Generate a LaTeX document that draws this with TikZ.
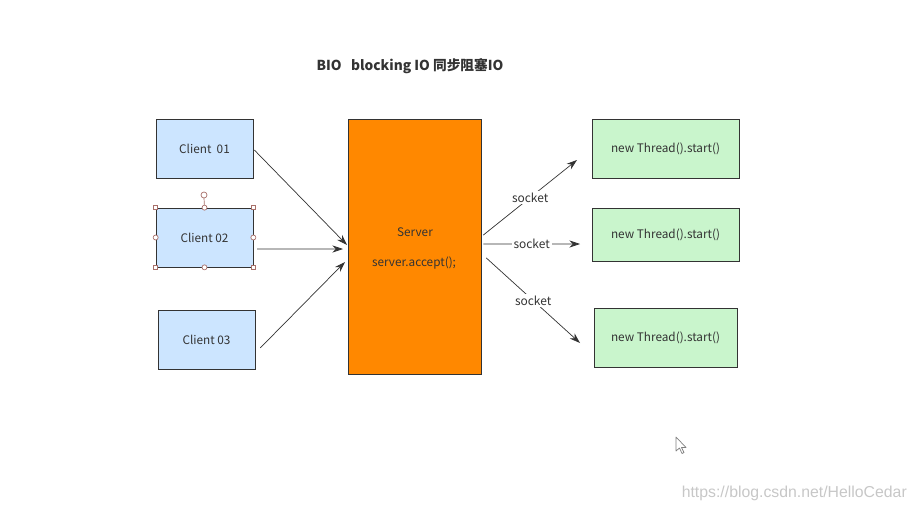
\documentclass[tikz,border=0pt]{standalone}
\usepackage{fontspec}
\setmainfont{Noto Sans CJK SC}
\newfontfamily\wmfont{Liberation Sans}
\usetikzlibrary{arrows.meta}
\definecolor{clientblue}{HTML}{CCE5FF}
\definecolor{threadgreen}{HTML}{C9F5CC}
\definecolor{serverorange}{HTML}{FF8800}
\definecolor{linegray}{HTML}{333333}
\definecolor{handlebrown}{HTML}{A8706A}
\tikzset{
  client/.style={draw=linegray,fill=clientblue,minimum width=1.94cm,minimum height=1.18cm,font=\fontsize{6.7}{8}\selectfont,text=linegray},
  thread/.style={draw=linegray,fill=threadgreen,minimum width=2.94cm,minimum height=1.18cm,font=\fontsize{6.7}{8}\selectfont,text=linegray},
  arr/.style={draw=linegray,-{Stealth[length=6pt,width=4pt]}},
  lbl/.style={fill=white,inner sep=1pt,font=\fontsize{6.8}{8}\selectfont,text=linegray},
  handle/.style={draw=handlebrown,fill=white,line width=0.4pt}
}
\begin{document}
\begin{tikzpicture}[x=0.02cm,y=-0.02cm]
% Cadre :
\useasboundingbox (0,0) rectangle (922,510);
% Titre :
\node[font=\fontsize{7.8}{9}\selectfont\bfseries,text=linegray] (title) at (410,66) {BIO\ \ \ blocking IO 同步阻塞IO};
% Clients :
\node[client] (c1) at (204.5,148.5) {Client\ \ 01};
\node[client] (c2) at (204.5,237.5) {Client 02};
\node[client] (c3) at (206.5,339.5) {Client 03};
% Serveur :
\node[draw=linegray,fill=serverorange,minimum width=2.66cm,minimum height=5.1cm] (srv) at (414.5,246.5) {};
\node[font=\fontsize{6.7}{8}\selectfont,text=linegray] (srvname) at (415,232) {Server};
\node[font=\fontsize{6.7}{8}\selectfont,text=linegray] (srvcall) at (414,263) {server.accept();};
% Threads :
\node[thread] (t1) at (665.5,148.5) {new Thread().start()};
\node[thread,minimum height=1.06cm] (t2) at (665.5,234.5) {new Thread().start()};
\node[thread,minimum width=2.86cm] (t3) at (665.5,337.5) {new Thread().start()};
% Poignees de selection (Client 02) :
\draw[handlebrown] (c2.north) -- (204,198);
\draw[handle] (204,195) circle (3);
\foreach \p in {north west,north east,south west,south east}
  \draw[handle] ([shift={(-2,-2)}]c2.\p) rectangle ([shift={(2,2)}]c2.\p);
\foreach \p in {north,south,east,west}
  \draw[handle] (c2.\p) circle (2.5);
% Connexions clients -> serveur :
\coordinate (in1) at (347,245);
\coordinate (in2) at (343,249);
\coordinate (in3) at (345,262);
\draw[arr] ([xshift=0.6pt,yshift=-0.9pt]c1.east) -- (in1);
\draw[arr] ([xshift=2.2pt,yshift=-6.5pt]c2.east) -- (in2);
\draw[arr] ([xshift=2.8pt,yshift=-4.8pt]c3.east) -- (in3);
% Sockets :
\coordinate (out1) at (577,160);
\coordinate (out2) at (580,244);
\coordinate (out3) at (580,343);
\draw[arr] ([xshift=1.1pt,yshift=6.5pt]srv.east) -- node[lbl,pos=0.5] (s1) {socket} (out1);
\draw[arr] ([xshift=1.1pt,yshift=1.4pt]srv.east) -- node[lbl,pos=0.5] (s2) {socket} (out2);
\draw[arr] ([xshift=2.8pt,yshift=-6.5pt]srv.east) -- node[lbl,pos=0.5] (s3) {socket} (out3);
% Curseur :
\draw[gray,fill=white,line join=round] (676,437) -- (676,451) -- (679.5,448) -- (682,453.5) -- (684,452.5) -- (681.5,447.5) -- (686,447.5) -- cycle;
% Filigrane :
\node[anchor=east,font=\wmfont\fontsize{9}{10}\selectfont,text=black!22] (wm) at (913,493) {https://blog.csdn.net/HelloCedar};
\end{tikzpicture}
\end{document}
